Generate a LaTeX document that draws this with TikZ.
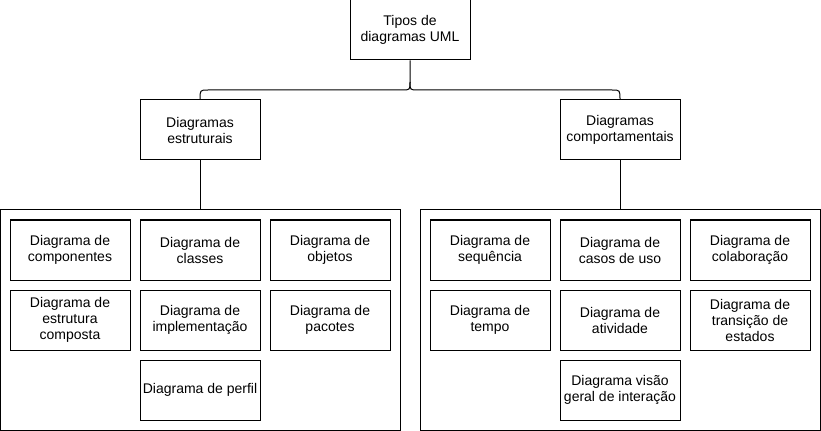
\documentclass[tikz,border=0pt]{standalone}
\usepackage{fontspec}
\setmainfont{Liberation Sans}
\usepackage{tikz}
\usetikzlibrary{positioning}

\begin{document}
\begin{tikzpicture}[
    x=0.75pt, y=-0.75pt,
    line width=0.75pt,
    every node/.style={font=\fontsize{10.5}{12}\selectfont},
    box/.style={draw, minimum width=90pt, minimum height=45pt, inner sep=1pt, align=center},
    group/.style={draw, minimum width=300pt, minimum height=165pt, inner sep=0pt},
    link/.style={-}
]
\useasboundingbox (0,0) rectangle (821,431);

% Top nodes
\node[box] (tipos) at (410,30) {Tipos de\\diagramas UML};
\node[box] (estruturais) at (200,130) {Diagramas\\estruturais};
\node[box] (comportamentais) at (620,130) {Diagramas\\comportamentais};

% Group frames
\node[group] (gestr) at (200,320) {};
\node[group] (gcomp) at (620,320) {};

% Structural diagrams
\node[box] (componentes) at (70,250) {Diagrama de\\componentes};
\node[box] (classes) at (200,250) {Diagrama de\\classes};
\node[box] (objetos) at (330,250) {Diagrama de\\objetos};
\node[box] (estrutura) at (70,320) {Diagrama de\\estrutura\\composta};
\node[box] (implementacao) at (200,320) {Diagrama de\\implementação};
\node[box] (pacotes) at (330,320) {Diagrama de\\pacotes};
\node[box] (perfil) at (200,390) {Diagrama de perfil};

% Behavioural diagrams
\node[box] (sequencia) at (490,250) {Diagrama de\\sequência};
\node[box] (casos) at (620,250) {Diagrama de\\casos de uso};
\node[box] (colaboracao) at (750,250) {Diagrama de\\colaboração};
\node[box] (tempo) at (490,320) {Diagrama de\\tempo};
\node[box] (atividade) at (620,320) {Diagrama de\\atividade};
\node[box] (transicao) at (750,320) {Diagrama de\\transição de\\estados};
\node[box] (visao) at (620,390) {Diagrama visão\\geral de interação};

% Brace
\coordinate (tip) at (410,82);
\draw[link] (tipos) -- (tip) .. controls (410,90) .. (402,90) -- (208,90)
    .. controls (200,90) .. (estruturais.north);
\draw[link] (tip) .. controls (410,90) .. (418,90) -- (612,90)
    .. controls (620,90) .. (comportamentais.north);

% Group links
\draw[link] (estruturais) -- (gestr);
\draw[link] (comportamentais) -- (gcomp);

\end{tikzpicture}
\end{document}
